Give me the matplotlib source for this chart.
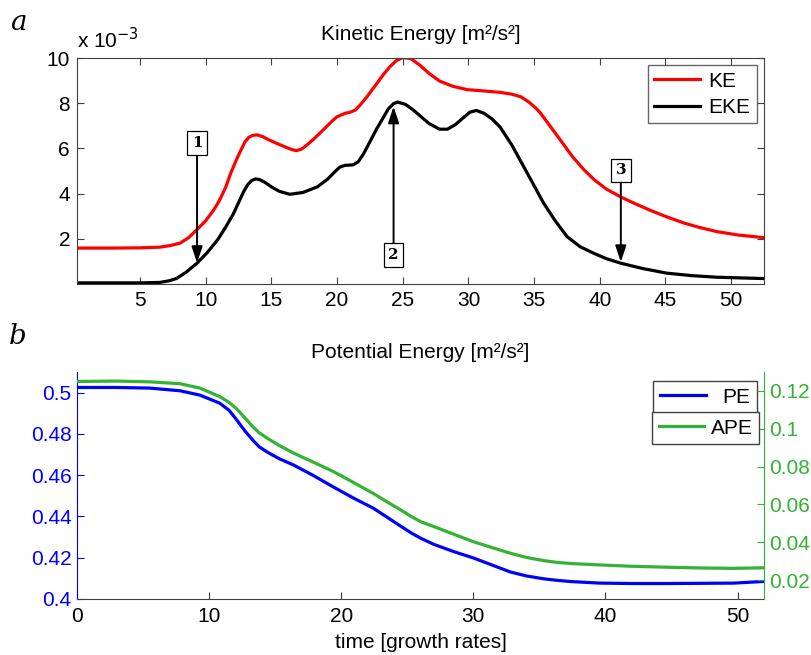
import matplotlib
matplotlib.use("Agg")
import matplotlib.pyplot as plt

plt.rcParams['font.family'] = ['Liberation Sans', 'DejaVu Sans']

# --- panel a: kinetic energy (units of 1e-3 m^2/s^2) ---
ke_t = [0.2, 3, 5, 6.5, 7.3, 8.05, 8.7, 9.3, 10.0, 10.6, 11.0, 11.5, 11.9, 12.3, 12.7,
        13.0, 13.3, 13.6, 13.9, 14.3, 14.8, 15.3, 16.1, 16.6, 16.9, 17.3, 17.7, 18.2,
        19.0, 19.6, 20.0, 20.6, 21.0, 21.4, 21.8, 22.3, 22.7, 23.0, 23.5, 24.0, 24.5,
        25.0, 25.6, 26.3, 27.0, 27.8, 28.8, 29.9, 31.0, 32.4, 33.3, 34.0, 34.6, 35.1,
        35.5, 36.2, 37.0, 37.9, 38.8, 39.6, 40.5, 41.6, 42.7, 43.8, 45.1, 46.4, 47.6,
        48.9, 50.5, 52.5]
ke = [1.59, 1.59, 1.6, 1.63, 1.7, 1.81, 2.05, 2.39, 2.8, 3.27, 3.65, 4.25, 4.9, 5.45, 5.95,
      6.3, 6.5, 6.58, 6.6, 6.53, 6.38, 6.25, 6.05, 5.94, 5.9, 5.97, 6.15, 6.4,
      6.85, 7.2, 7.4, 7.55, 7.6, 7.7, 7.95, 8.3, 8.62, 8.85, 9.25, 9.6, 9.88,
      10.02, 9.98, 9.68, 9.32, 8.98, 8.75, 8.6, 8.55, 8.48, 8.4, 8.28, 8.05, 7.8,
      7.55, 7.0, 6.37, 5.65, 5.05, 4.6, 4.2, 3.85, 3.55, 3.27, 2.97, 2.7, 2.5,
      2.32, 2.17, 2.05]

eke_t = [0.2, 3, 5, 6.5, 7.2, 7.8, 8.5, 9.3, 10.1, 10.9, 11.5, 12.1, 12.5, 12.9, 13.2,
         13.5, 13.8, 14.1, 14.5, 15.0, 15.6, 16.4, 17.4, 18.5, 19.3, 19.8, 20.2, 20.6,
         21.2, 21.6, 22.0, 22.3, 23.0, 23.5, 23.9, 24.3, 24.6, 25.2, 25.8, 26.3, 27.0,
         27.8, 28.4, 29.0, 29.6, 30.1, 30.6, 31.2, 31.8, 32.4, 33.3, 34.2, 35.0, 35.7,
         36.6, 37.5, 38.5, 39.5, 40.5, 41.6, 43.3, 45.1, 47.0, 48.9, 50.7, 52.5]
eke = [0.05, 0.05, 0.05, 0.07, 0.14, 0.25, 0.52, 0.9, 1.38, 1.95, 2.5, 3.1, 3.6, 4.1, 4.4,
       4.58, 4.65, 4.62, 4.5, 4.3, 4.1, 3.97, 4.05, 4.3, 4.65, 4.95, 5.17, 5.25,
       5.27, 5.4, 5.75, 6.07, 6.85, 7.35, 7.75, 7.98, 8.05, 7.95, 7.7, 7.45, 7.1,
       6.85, 6.85, 7.05, 7.35, 7.6, 7.68, 7.55, 7.3, 6.95, 6.15, 5.2, 4.35, 3.6,
       2.8, 2.1, 1.65, 1.37, 1.12, 0.92, 0.68, 0.48, 0.37, 0.3, 0.27, 0.24]

# annotation markers: (label, time, tip value, box value)
marks = [("1", 9.34, 0.93, 6.24), ("2", 24.3, 7.85, 1.28), ("3", 41.6, 0.97, 5.04)]

# --- panel b: potential energy ---
pe_t = [0.0, 3, 5.5, 7.8, 9.3, 10.8, 11.5, 12.1, 12.7, 13.3, 13.8, 14.4, 15.3, 16.4, 17.9,
        19.4, 20.9, 22.4, 23.5, 24.5, 25.3, 26.0, 27.0, 28.5, 30.0, 31.4, 32.8, 34.0,
        35.3, 36.4, 37.5, 39.6, 42.0, 44.7, 47.2, 49.7, 52.0]
pe = [0.5025, 0.5025, 0.5022, 0.5009, 0.4988, 0.4949, 0.4915, 0.4867, 0.4815, 0.4770,
      0.4737, 0.4712, 0.4680, 0.4649, 0.4598, 0.4543, 0.4490, 0.4441, 0.4395, 0.4353,
      0.4320, 0.4295, 0.4265, 0.4230, 0.4199, 0.4165, 0.4131, 0.4112, 0.4098, 0.4090,
      0.4084, 0.4077, 0.4075, 0.4075, 0.4076, 0.4077, 0.4085]
ape_t = [0.0, 3, 5.5, 7.8, 9.3, 10.8, 11.5, 12.1, 12.7, 13.3, 13.8, 14.4, 15.3, 16.4, 17.9,
         19.4, 20.9, 22.4, 23.5, 24.5, 25.3, 26.0, 27.0, 28.5, 30.0, 31.4, 32.8, 34.0,
         35.3, 36.4, 37.5, 39.6, 42.0, 44.7, 47.2, 49.7, 52.0]
ape = [0.1250, 0.1252, 0.1248, 0.1238, 0.1215, 0.1170, 0.1140, 0.1104, 0.1058, 0.1012,
       0.0978, 0.0950, 0.0912, 0.0871, 0.0823, 0.0774, 0.0717, 0.0659, 0.0612, 0.0571,
       0.0536, 0.0509, 0.0483, 0.0443, 0.0403, 0.0372, 0.0342, 0.0320, 0.0303, 0.0293,
       0.0287, 0.0280, 0.0273, 0.0268, 0.0264, 0.0262, 0.0265]

red = '#ff0000'
blue = '#0000ff'
green = '#33b233'
grey = '#404040'
fs = 15

fig = plt.figure(figsize=(8.11, 6.55), dpi=100)
W, H = 811, 655
ax1 = fig.add_axes([77 / W, 1 - 284 / H, (764 - 77) / W, (284 - 58) / H])
ax2 = fig.add_axes([77 / W, 1 - 599 / H, (764 - 77) / W, (599 - 372) / H])

# top panel
ax1.plot(ke_t, [v * 1e-3 for v in ke], color=red, lw=2.3, label='KE')
ax1.plot(eke_t, [v * 1e-3 for v in eke], color='black', lw=2.3, label='EKE')
ax1.set_xlim(0.2, 52.5)
ax1.set_ylim(0, 0.01)
ax1.set_xticks([5, 10, 15, 20, 25, 30, 35, 40, 45, 50])
ax1.set_yticks([0.002, 0.004, 0.006, 0.008, 0.01])
ax1.set_yticklabels(['2', '4', '6', '8', '10'])
ax1.tick_params(direction='in', top=True, right=True, labelsize=fs, length=5,
                color=grey, pad=5)
for s in ax1.spines.values():
    s.set_color(grey)
ax1.set_title('Kinetic Energy [m²/s²]', fontsize=fs, pad=13)
ax1.text(0.0, 1.025, r'x 10$^{-3}$', transform=ax1.transAxes, fontsize=fs, va='bottom')
leg1 = ax1.legend(loc='upper right', fontsize=fs, frameon=True, fancybox=False,
                  handlelength=2.2, borderpad=0.3, labelspacing=0.35,
                  handletextpad=0.4, borderaxespad=0.35)
leg1.get_frame().set_edgecolor(grey)
leg1.get_frame().set_linewidth(1.0)

for lab, t, tip, box in marks:
    ax1.annotate(lab, xy=(t, tip * 1e-3), xytext=(t, box * 1e-3),
                 ha='center', va='center', fontsize=11, fontweight='bold',
                 family='DejaVu Serif',
                 bbox=dict(boxstyle='square,pad=0.3', fc='white', ec='black', lw=0.9),
                 arrowprops=dict(arrowstyle='-|>,head_length=0.9,head_width=0.3',
                                 color='black', lw=1.4, shrinkA=0, shrinkB=0))

fig.text(18 / W, 1 - 22 / H, 'a', fontsize=20, style='italic', family='DejaVu Serif',
         ha='center', va='center')

# bottom panel
ax2.plot(pe_t, pe, color=blue, lw=2.3, label='PE')
ax2.set_xlim(0, 52)
ax2.set_ylim(0.4, 0.51)
ax2.set_xticks([0, 10, 20, 30, 40, 50])
ax2.set_yticks([0.4, 0.42, 0.44, 0.46, 0.48, 0.5])
ax2.set_yticklabels(['0.4', '0.42', '0.44', '0.46', '0.48', '0.5'])
ax2.tick_params(axis='x', direction='in', labelsize=fs, length=5, color=grey, pad=6)
ax2.tick_params(axis='y', direction='in', labelsize=fs, length=5, colors=blue,
                labelcolor=blue, pad=4)
ax2.spines['top'].set_visible(False)
ax2.spines['right'].set_visible(False)
ax2.spines['left'].set_color(blue)
ax2.spines['bottom'].set_color(grey)
ax2.set_xlabel('time [growth rates]', fontsize=fs, labelpad=5)
ax2.set_title('Potential Energy [m²/s²]', fontsize=fs, pad=10)

ax3 = ax2.twinx()
ax3.plot(ape_t, ape, color=green, lw=2.3, label='APE')
ax3.set_ylim(0.01, 0.13)
ax3.set_yticks([0.02, 0.04, 0.06, 0.08, 0.1, 0.12])
ax3.set_yticklabels(['0.02', '0.04', '0.06', '0.08', '0.1', '0.12'])
ax3.tick_params(axis='y', direction='in', labelsize=fs, length=5, colors=green,
                labelcolor=green, pad=4)
for k in ['top', 'left', 'bottom']:
    ax3.spines[k].set_visible(False)
ax3.spines['right'].set_color(green)

leg2 = ax2.legend(loc='upper right', bbox_to_anchor=(0.99, 0.96), fontsize=fs,
                  fancybox=False, handlelength=2.2, borderpad=0.32,
                  handletextpad=0.8, borderaxespad=0)
leg2.get_frame().set_edgecolor(grey)
leg2.get_frame().set_alpha(1)
leg3 = ax3.legend(loc='upper right', bbox_to_anchor=(0.993, 0.824), fontsize=fs,
                  fancybox=False, handlelength=2.2, borderpad=0.32,
                  handletextpad=0.3, borderaxespad=0)
leg3.get_frame().set_edgecolor(grey)
leg3.get_frame().set_alpha(1)

fig.text(18 / W, 1 - 337 / H, 'b', fontsize=20, style='italic', family='DejaVu Serif',
         ha='center', va='center')

fig.savefig('out.png', dpi=100)
